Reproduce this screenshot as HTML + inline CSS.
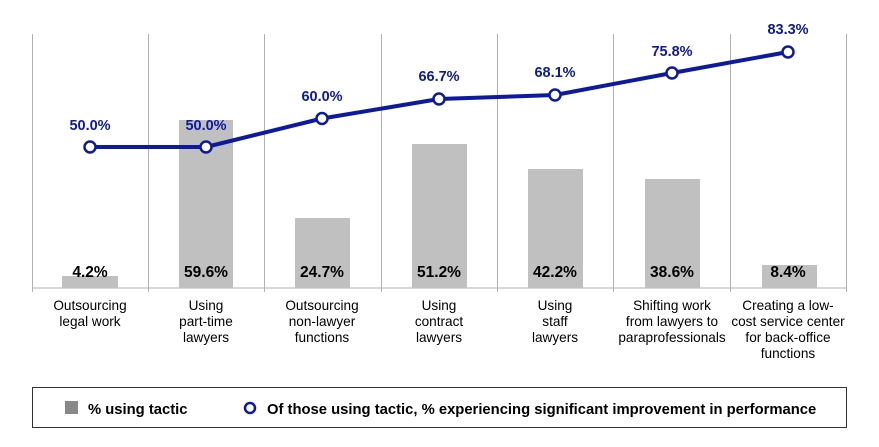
<!DOCTYPE html>
<html><head><meta charset="utf-8"><style>body{margin:0;background:#fff}svg{display:block}</style></head><body>
<svg width="879" height="447" viewBox="0 0 879 447" font-family="Liberation Sans, Arial, sans-serif">
<g stroke="#b0b0b0" stroke-width="1">
<line x1="32.5" y1="34" x2="32.5" y2="292"/><line x1="148.5" y1="34" x2="148.5" y2="292"/><line x1="264.5" y1="34" x2="264.5" y2="292"/><line x1="381.5" y1="34" x2="381.5" y2="292"/><line x1="497.5" y1="34" x2="497.5" y2="292"/><line x1="613.5" y1="34" x2="613.5" y2="292"/><line x1="730.5" y1="34" x2="730.5" y2="292"/><line x1="846.5" y1="34" x2="846.5" y2="292"/>
<line x1="32" y1="288" x2="847" y2="288"/>
</g>
<g fill="#c0c0c0">
<rect x="62" y="276" width="56" height="12"/>
<rect x="179" y="120" width="54" height="168"/>
<rect x="295" y="218" width="55" height="70"/>
<rect x="412" y="144" width="55" height="144"/>
<rect x="528" y="169" width="55" height="119"/>
<rect x="645" y="179" width="55" height="109"/>
<rect x="762" y="265" width="55" height="23"/>
</g>
<g font-size="15.5" font-weight="bold" fill="#000" text-anchor="middle">
<text x="90" y="277">4.2%</text><text x="206" y="277">59.6%</text><text x="322" y="277">24.7%</text><text x="439" y="277">51.2%</text><text x="555" y="277">42.2%</text><text x="672" y="277">38.6%</text><text x="788" y="277">8.4%</text>
</g>
<polyline points="90,147 206,147 322,118.5 439,99 555,95 672,73 788,52" fill="none" stroke="#0d1aa0" stroke-width="4" stroke-linejoin="round"/>
<g fill="#fff" stroke="#0d1aa0" stroke-width="2.5">
<circle cx="90" cy="147" r="5.5"/><circle cx="206" cy="147" r="5.5"/><circle cx="322" cy="118.5" r="5.5"/><circle cx="439" cy="99" r="5.5"/><circle cx="555" cy="95" r="5.5"/><circle cx="672" cy="73" r="5.5"/><circle cx="788" cy="52" r="5.5"/>
</g>
<g font-size="14.5" font-weight="bold" fill="#0d1aa0" text-anchor="middle">
<text x="90" y="130">50.0%</text><text x="206" y="130">50.0%</text><text x="322" y="101">60.0%</text><text x="439" y="81">66.7%</text><text x="555" y="77">68.1%</text><text x="672" y="56">75.8%</text><text x="788" y="34">83.3%</text>
</g>
<g font-size="13.6" fill="#000" text-anchor="middle">
<text x="90" y="310">Outsourcing</text><text x="90" y="326">legal work</text>
<text x="206" y="310">Using</text><text x="206" y="326">part-time</text><text x="206" y="342">lawyers</text>
<text x="322" y="310">Outsourcing</text><text x="322" y="326">non-lawyer</text><text x="322" y="342">functions</text>
<text x="439" y="310">Using</text><text x="439" y="326">contract</text><text x="439" y="342">lawyers</text>
<text x="555" y="310">Using</text><text x="555" y="326">staff</text><text x="555" y="342">lawyers</text>
<text x="672" y="310">Shifting work</text><text x="672" y="326">from lawyers to</text><text x="672" y="342">paraprofessionals</text>
<text x="788" y="310">Creating a low-</text><text x="788" y="326">cost service center</text><text x="788" y="342">for back-office</text><text x="788" y="358">functions</text>
</g>
<rect x="32.5" y="387.5" width="814" height="40" fill="none" stroke="#333" stroke-width="1"/>
<rect x="65" y="401" width="13" height="13" fill="#888"/>
<text x="88" y="414" font-size="14.8" font-weight="bold">% using tactic</text>
<circle cx="250" cy="408" r="5" fill="#fff" stroke="#0d1aa0" stroke-width="2.5"/>
<text x="267" y="414" font-size="14.8" font-weight="bold">Of those using tactic, % experiencing significant improvement in performance</text>
</svg>
</body></html>
